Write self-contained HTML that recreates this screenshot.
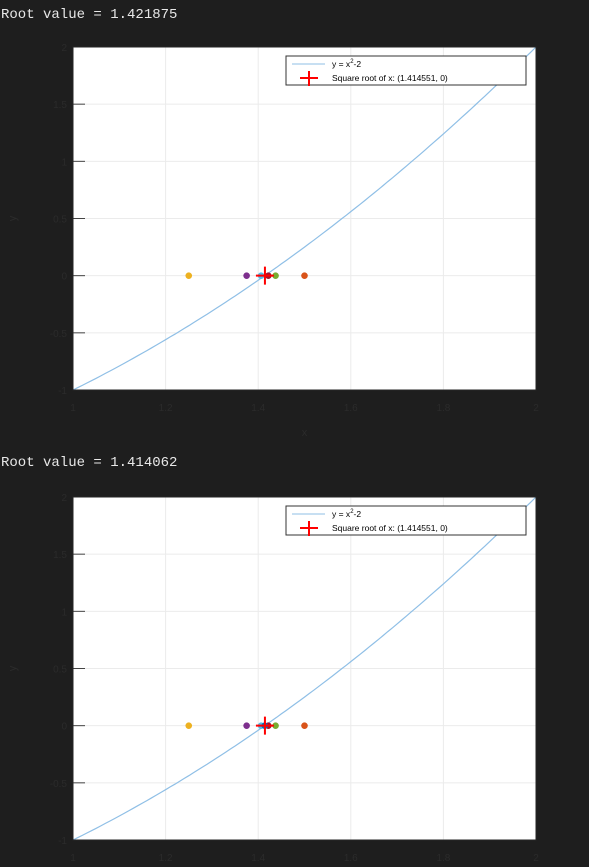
<!DOCTYPE html>
<html><head><meta charset="utf-8">
<style>
html,body{margin:0;padding:0;background:#1e1e1e;width:589px;height:867px;overflow:hidden}
.out{position:absolute;left:1px;font-family:"Liberation Mono",monospace;font-size:14px;color:#e8e8e8;white-space:pre}
svg{position:absolute;left:0;top:0}
</style></head>
<body>
<div class="out" style="top:7px">Root value = 1.421875</div>
<div class="out" style="top:455px">Root value = 1.414062</div>
<svg id="chart" width="589" height="867"></svg>
<script>
const xTicks = [1, 1.2, 1.4, 1.6, 1.8, 2];
const xTickLabels = ["1", "1.2", "1.4", "1.6", "1.8", "2"];
const yTicks = [-1, -0.5, 0, 0.5, 1, 1.5, 2];
const yTickLabels = ["-1", "-0.5", "0", "0.5", "1", "1.5", "2"];
const midpoints1 = [1.5, 1.25, 1.375, 1.4375, 1.40625, 1.421875];
const midpoints2 = [1.5, 1.25, 1.375, 1.4375, 1.40625, 1.421875, 1.4140625];
const pointColors = ["#D95319", "#EDB120", "#7E2F8E", "#77AC30", "#4DBEEE", "#A2142F", "#0072BD"];
const rootX = [1.414551];
const NS = "http://www.w3.org/2000/svg";
const svg = document.getElementById("chart");
function el(t, a, p) { const e = document.createElementNS(NS, t); for (const k in a) e.setAttribute(k, a[k]); (p || svg).appendChild(e); return e; }
const dim = "#2b2b2b";
function drawPlot(top, pts, idx) {
  const L = 73, R = 536, T = top, B = top + 343;
  const sx = v => L + (v - 1) / (2 - 1) * (R - L);
  const sy = v => B - (v + 1) / 3 * (B - T);
  const g = el("g", {});
  
  
  el("rect", {x: L, y: T, width: R - L, height: B - T, fill: "#fff"}, g);
  xTicks.forEach((v, i) => {
    el("line", {x1: sx(v), x2: sx(v), y1: T, y2: B, stroke: "#ebebeb", "stroke-width": 1}, g);
    const t = el("text", {x: sx(v), y: B + 21, "text-anchor": "middle", "font-family": "Liberation Sans, sans-serif", "font-size": 10, fill: dim}, g);
    t.textContent = xTickLabels[i];
    
    
  });
  yTicks.forEach((v, i) => {
    el("line", {x1: L, x2: R, y1: sy(v), y2: sy(v), stroke: "#ebebeb", "stroke-width": 1}, g);
    el("line", {x1: L, x2: L + 12, y1: sy(v), y2: sy(v), stroke: "#444", "stroke-width": 1}, g);
    const t = el("text", {x: L - 6, y: sy(v) + 4, "text-anchor": "end", "font-family": "Liberation Sans, sans-serif", "font-size": 10, fill: dim}, g);
    t.textContent = yTickLabels[i];
    
    
  });
  const xl = el("text", {x: (L + R) / 2, y: B + 46, "text-anchor": "middle", "font-family": "Liberation Sans, sans-serif", "font-size": 11, fill: dim}, g);
  xl.textContent = "x";
  
  
  const yl = el("text", {x: 16, y: (T + B) / 2, "text-anchor": "middle", "font-family": "Liberation Sans, sans-serif", "font-size": 11, fill: dim, transform: `rotate(-90 16 ${(T + B) / 2})`}, g);
  yl.textContent = "y";
  
  
  let d = "";
  for (let i = 0; i <= 100; i++) { const x = 1 + i / 100; d += (i ? "L" : "M") + sx(x).toFixed(1) + "," + sy(x * x - 2).toFixed(1); }
  const c = el("path", {d: d, fill: "none", stroke: "#8fbfe6", "stroke-width": 1.2}, g);
  
  
  pts.forEach((v, i) => {
    const p = el("circle", {cx: sx(v), cy: sy(0), r: 3.3, fill: pointColors[i]}, g);
    
    
  });
  const rx = sx(rootX[0]), ry = sy(0);
  const rm = el("path", {d: `M${rx - 9},${ry}H${rx + 9}M${rx},${ry - 9}V${ry + 9}`, stroke: "#ff0000", "stroke-width": 2}, g);
  
  
  el("rect", {x: L, y: T, width: R - L, height: B - T, fill: "none", stroke: "#262626", "stroke-width": 1}, g);
  const lg = el("g", {}, g);
  
  
  el("rect", {x: 286, y: T + 9, width: 240, height: 29, fill: "#fff", stroke: "#333", "stroke-width": 1}, lg);
  el("line", {x1: 292, x2: 325, y1: T + 17, y2: T + 17, stroke: "#8fbfe6", "stroke-width": 1}, lg);
  const t1 = el("text", {x: 332, y: T + 20, "font-family": "Liberation Sans, sans-serif", "font-size": 8.5, fill: "#000"}, lg);
  t1.innerHTML = 'y = x<tspan dy="-4" font-size="6">2</tspan><tspan dy="4">-2</tspan>';
  
  
  el("path", {d: `M300,${T + 31}H318M309,${T + 24}V${T + 39}`, stroke: "#ff0000", "stroke-width": 2}, lg);
  const t2 = el("text", {x: 332, y: T + 34, "font-family": "Liberation Sans, sans-serif", "font-size": 8.5, fill: "#000"}, lg);
  t2.textContent = "Square root of x: (1.414551, 0)";
  
  
}
drawPlot(47, midpoints1, 1);
drawPlot(497, midpoints2, 2);
</script>
</body></html>
